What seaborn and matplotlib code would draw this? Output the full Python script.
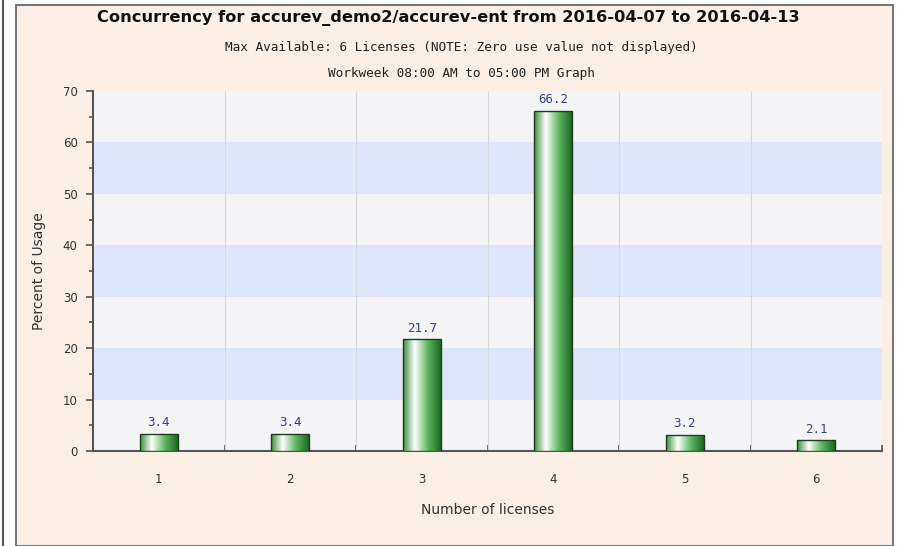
# Concurrency bar chart - license usage
import numpy as np
import pandas as pd
import matplotlib
matplotlib.use("Agg")
import matplotlib.pyplot as plt
import seaborn as sns
from matplotlib.colors import LinearSegmentedColormap
from matplotlib.patches import Rectangle
from matplotlib.ticker import MultipleLocator, FixedLocator

# ==========================
# Data
# ==========================
licenses = ["1", "2", "3", "4", "5", "6"]
usage = [3.4, 3.4, 21.7, 66.2, 3.2, 2.1]

title = "Concurrency for accurev_demo2/accurev-ent from 2016-04-07 to 2016-04-13"
subtitle1 = "Max Available: 6 Licenses (NOTE: Zero use value not displayed)"
subtitle2 = "Workweek 08:00 AM to 05:00 PM Graph"

data = pd.DataFrame({"Licenses": licenses, "Usage": usage})

# ==========================
# Figure
# ==========================
sns.set_theme(style="white")
plt.rcParams["font.family"] = ["DejaVu Sans"]

peach = "#fcf0e6"
fig = plt.figure(figsize=(8.97, 5.46), dpi=100)
fig.patch.set_facecolor("white")

W, H = 897, 546
# outer frame
fig.patches.append(Rectangle((16 / W, 0), (893 - 16) / W, (H - 5) / H,
                             transform=fig.transFigure, facecolor=peach,
                             edgecolor="#777777", linewidth=1.5, zorder=-10))
fig.lines.append(plt.Line2D([3 / W, 3 / W], [0, 1], transform=fig.transFigure,
                            color="#555555", linewidth=1.5, zorder=-10))

ax = fig.add_axes([93 / W, 1 - 451 / H, (882 - 93) / W, (451 - 91) / H])
ax.set_facecolor("#f5f5f8")

sns.barplot(data=data, x="Licenses", y="Usage", width=0.29, ax=ax,
            color="#4caf50", edgecolor="#1d3d1d", linewidth=1, zorder=3)
bars = list(ax.containers[0])

# stripes
for lo in range(0, 70, 10):
    col = "#dde6fa" if (lo // 10) % 2 == 1 else "#f5f5f8"
    ax.axhspan(lo, lo + 10, color=col, zorder=0, linewidth=0)

# vertical grid at category boundaries
for b in np.arange(0.5, 5.5, 1):
    ax.axvline(b, color="#d9d9d9", linewidth=0.8, zorder=1)

# gradient fill on bars
cmap = LinearSegmentedColormap.from_list(
    "bar", [(0, "#3a8c3c"), (0.3, "#ffffff"), (0.65, "#5cb45e"), (1, "#16621c")])
grad = np.linspace(0, 1, 256).reshape(1, -1)
for p, v in zip(bars, usage):
    x0, y0 = p.get_x(), p.get_y()
    w, h = p.get_width(), p.get_height()
    im = ax.imshow(grad, cmap=cmap, aspect="auto", extent=[x0, x0 + w, y0, y0 + h],
                   zorder=3, interpolation="bicubic")
    im.set_clip_path(p)
    p.set_facecolor("none")
    p.set_zorder(4)
    ax.text(x0 + w / 2, y0 + h + 0.9, f"{v}", ha="center", va="bottom",
            family="DejaVu Sans Mono", fontsize=9, color="#34408a", zorder=5)
ax.set_xlim(-0.5, 5.5)
ax.set_ylim(0, 70)

# axes styling
for s in ["top", "right"]:
    ax.spines[s].set_visible(False)
for s in ["left", "bottom"]:
    ax.spines[s].set_color("#555555")
    ax.spines[s].set_linewidth(1.5)

ax.yaxis.set_major_locator(MultipleLocator(10))
ax.yaxis.set_minor_locator(MultipleLocator(5))
ax.tick_params(axis="y", which="major", direction="out", length=5, width=1.2,
               color="#555555", labelsize=8.5, labelcolor="#333333", pad=6, left=True)
ax.tick_params(axis="y", which="minor", direction="out", length=3, width=1.2,
               color="#555555", left=True)
ax.xaxis.set_minor_locator(FixedLocator(np.arange(0.5, 6, 1)))
ax.tick_params(axis="x", which="major", length=0, labelsize=8.5,
               labelcolor="#333333", pad=16)
ax.tick_params(axis="x", which="minor", direction="in", length=4, width=1.2,
               color="#555555", bottom=True)

ax.set_xlabel("Number of licenses", fontsize=10, color="#333333", labelpad=12)
ax.set_ylabel("Percent of Usage", fontsize=10, color="#333333", labelpad=12)

# titles
fig.text(448 / W, 1 - 18 / H, title, ha="center", va="center",
         fontsize=11.7, fontweight="bold", color="#111111")
fig.text(461 / W, 1 - 48 / H, subtitle1, ha="center", va="center",
         family="DejaVu Sans Mono", fontsize=9.2, color="#222222")
fig.text(461 / W, 1 - 73 / H, subtitle2, ha="center", va="center",
         family="DejaVu Sans Mono", fontsize=9.2, color="#222222")

fig.savefig("out.png", dpi=100, facecolor=fig.get_facecolor())
